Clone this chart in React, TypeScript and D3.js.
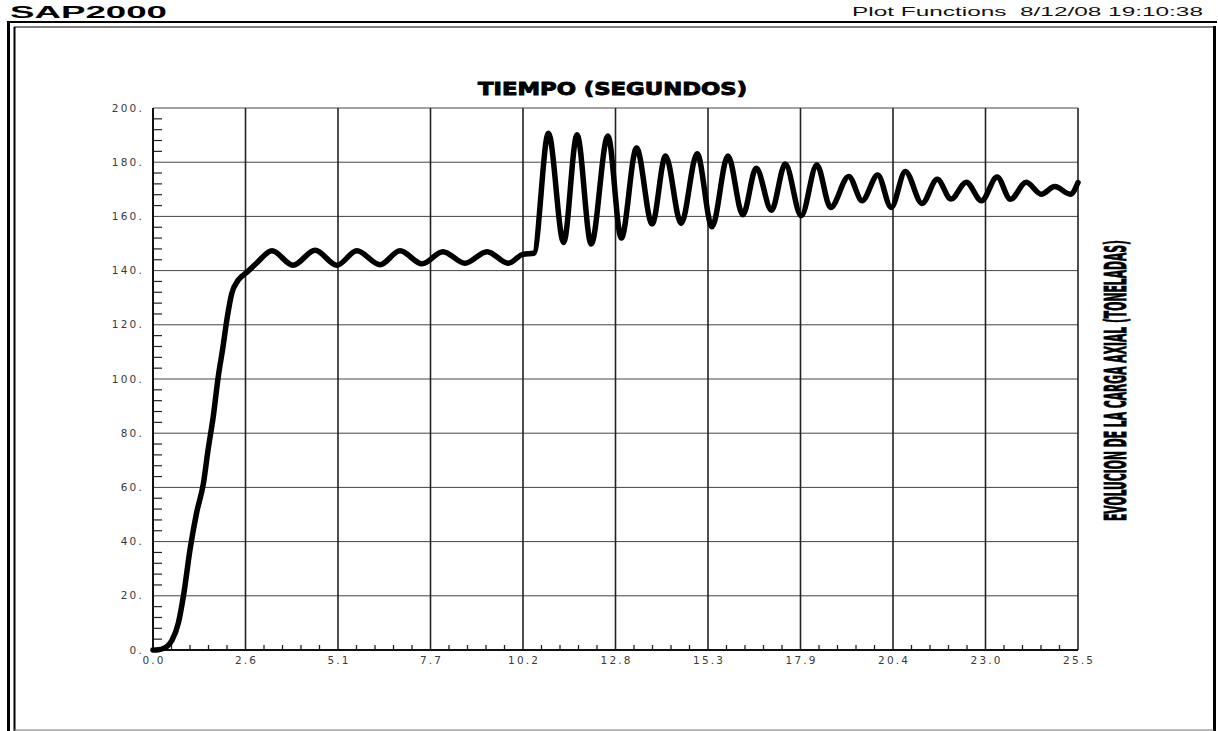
import React from "react";
import * as d3 from "d3";

// ---- data ----
const timeSec: number[] = [
  0, 0.15, 0.29, 0.4, 0.52, 0.7, 0.84, 1.02, 1.2, 1.39, 1.52, 1.66, 1.8, 1.92, 2.05, 2.17, 2.35, 2.58, 2.86,
  3.28, 3.86, 4.47, 5.07, 5.62, 6.26, 6.81, 7.42, 7.99, 8.6, 9.21, 9.79, 10.2, 10.5,
  10.9, 11.32, 11.69, 12.08, 12.54, 12.91, 13.33, 13.76, 14.13, 14.56, 15.0, 15.41, 15.85, 16.26,
  16.63, 17.05, 17.43, 17.87, 18.3, 18.68, 19.18, 19.55, 19.98, 20.35, 20.74, 21.2, 21.62, 22.0,
  22.42, 22.84, 23.27, 23.64, 24.07, 24.49, 24.86, 25.29, 25.5,
];
const axialLoad: number[] = [
  0, 0.1, 0.6, 1.5, 3.5, 10, 20, 37, 50.5, 61.5, 74, 86, 101, 111, 123, 131.5, 136.5, 139.3, 142.8,
  147.3, 142.0, 147.5, 142.0, 147.3, 142.2, 147.3, 142.5, 147.0, 142.7, 147.0, 142.7, 146.0, 146.4,
  190.7, 150.4, 190.1, 149.8, 189.7, 152.0, 185.2, 157.2, 182.3, 157.4, 183.1, 156.2, 182.3, 160.6,
  177.8, 162.3, 179.3, 160.2, 179.0, 163.3, 174.7, 165.8, 175.3, 163.3, 176.6, 164.8, 173.7, 166.4,
  172.6, 165.8, 174.5, 166.3, 172.6, 168.2, 171.0, 168.2, 172.5,
];
const xTickValues: number[] = [0, 2.55, 5.1, 7.65, 10.2, 12.75, 15.3, 17.85, 20.4, 22.95, 25.5];
const xTickLabels: string[] = ["0.0", "2.6", "5.1", "7.7", "10.2", "12.8", "15.3", "17.9", "20.4", "23.0", "25.5"];
const yTickValues: number[] = [0, 20, 40, 60, 80, 100, 120, 140, 160, 180, 200];
const yTickLabels: string[] = ["0.", "20.", "40.", "60.", "80.", "100.", "120.", "140.", "160.", "180.", "200."];

const headerLeft = "SAP2000";
const headerRight = "Plot Functions  8/12/08 19:10:38";
const xTitle = "TIEMPO (SEGUNDOS)";
const yTitle = "EVOLUCION DE LA CARGA AXIAL (TONELADAS)";

export default function App() {
  const W = 1218;
  const H = 731;
  const left = 153, right = 1078, top = 108, bottom = 650;

  const x = d3.scaleLinear().domain([0, 25.5]).range([left, right]);
  const y = d3.scaleLinear().domain([0, 200]).range([bottom, top]);

  const pts: [number, number][] = timeSec.map((t, i) => [t, axialLoad[i]]);
  const line = d3
    .line<[number, number]>()
    .x((d) => x(d[0]))
    .y((d) => y(d[1]))
    .curve(d3.curveMonotoneX);

  // minor ticks: 4 between each major
  const xMinor: number[] = [];
  for (let i = 0; i < xTickValues.length - 1; i++) {
    const a = xTickValues[i], b = xTickValues[i + 1];
    for (let k = 1; k < 5; k++) xMinor.push(a + ((b - a) * k) / 5);
  }
  const yMinor: number[] = [];
  for (let i = 0; i < yTickValues.length - 1; i++) {
    const a = yTickValues[i], b = yTickValues[i + 1];
    for (let k = 1; k < 5; k++) yMinor.push(a + ((b - a) * k) / 5);
  }

  const tickFont = "'DejaVu Sans', Arial, sans-serif";

  return (
    <svg
      width={W}
      height={H}
      style={{ position: "absolute", left: 0, top: 0, display: "block", background: "#fff" }}
    >
      <rect x={0} y={0} width={W} height={H} fill="#fff" />
      {/* header */}
      <text
        x={10}
        y={18}
        fontFamily="'Liberation Sans', Arial, sans-serif"
        fontWeight="bold"
        fontSize={16.5}
        textLength={157}
        lengthAdjust="spacingAndGlyphs"
        fill="#000"
      >
        {headerLeft}
      </text>
      <text
        x={852}
        y={16}
        fontFamily="'Liberation Sans', Arial, sans-serif"
        fontSize={12.5}
        textLength={351}
        lengthAdjust="spacingAndGlyphs"
        fill="#111"
        style={{ whiteSpace: "pre" }}
      >
        {headerRight}
      </text>

      {/* frame */}
      <line x1={7} x2={1217} y1={22} y2={22} stroke="#000" strokeWidth={2} />
      <line x1={8.5} x2={8.5} y1={21} y2={731} stroke="#000" strokeWidth={3} />
      <line x1={14} x2={1213} y1={27} y2={27} stroke="#000" strokeWidth={1} />
      <line x1={14.5} x2={14.5} y1={27} y2={731} stroke="#000" strokeWidth={2} />
      <line x1={1214.5} x2={1214.5} y1={26} y2={731} stroke="#000" strokeWidth={3} />
      <line x1={14} x2={1214} y1={730} y2={730} stroke="#777" strokeWidth={1} />

      {/* horizontal grid */}
      {yTickValues.map((v) => (
        <line key={"hg" + v} x1={left} x2={right} y1={y(v)} y2={y(v)} stroke="#444" strokeWidth={1} />
      ))}
      {/* vertical grid */}
      {xTickValues.map((v) => (
        <line key={"vg" + v} x1={x(v)} x2={x(v)} y1={top} y2={bottom} stroke="#222" strokeWidth={1.6} />
      ))}
      {/* minor ticks */}
      {xMinor.map((v, i) => (
        <line key={"xm" + i} x1={x(v)} x2={x(v)} y1={bottom} y2={bottom - 5} stroke="#222" strokeWidth={1.3} />
      ))}
      {yMinor.map((v, i) => (
        <line key={"ym" + i} x1={left} x2={left + 9} y1={y(v)} y2={y(v)} stroke="#222" strokeWidth={1.2} />
      ))}
      {/* axes */}
      <line x1={left} x2={left} y1={top} y2={bottom} stroke="#111" strokeWidth={2} />
      <line x1={left} x2={right} y1={bottom} y2={bottom} stroke="#111" strokeWidth={2} />

      {/* tick labels */}
      {yTickValues.map((v, i) => (
        <text
          key={"yl" + v}
          x={144}
          y={y(v)}
          dy="0.35em"
          textAnchor="end"
          fontFamily={tickFont}
          fontSize={10.5}
          letterSpacing={2.2}
          fill="#3a3a3a"
        >
          {yTickLabels[i]}
        </text>
      ))}
      {xTickValues.map((v, i) => (
        <text
          key={"xl" + v}
          x={x(v) + 1.1}
          y={664}
          textAnchor="middle"
          fontFamily={tickFont}
          fontSize={10.5}
          letterSpacing={2.2}
          fill="#3a3a3a"
        >
          {xTickLabels[i]}
        </text>
      ))}

      {/* titles */}
      <text
        x={478}
        y={95}
        fontFamily="'DejaVu Sans', Arial, sans-serif"
        fontWeight="bold"
        fontSize={17}
        textLength={269}
        lengthAdjust="spacingAndGlyphs"
        fill="#000"
        stroke="#000"
        strokeWidth={0.9}
      >
        {xTitle}
      </text>
      <text
        transform="translate(1126,521) rotate(-90) scale(1,2.3)"
        x={0}
        y={0}
        fontFamily="'DejaVu Sans Condensed', 'DejaVu Sans', Arial, sans-serif"
        fontWeight="bold"
        fontSize={13}
        textLength={281}
        lengthAdjust="spacingAndGlyphs"
        fill="#000"
        stroke="#000"
        strokeWidth={0.4}
      >
        {yTitle}
      </text>

      {/* data curve */}
      <path d={line(pts) || ""} fill="none" stroke="#000" strokeWidth={5.5} strokeLinejoin="round" strokeLinecap="round" />
    </svg>
  );
}
